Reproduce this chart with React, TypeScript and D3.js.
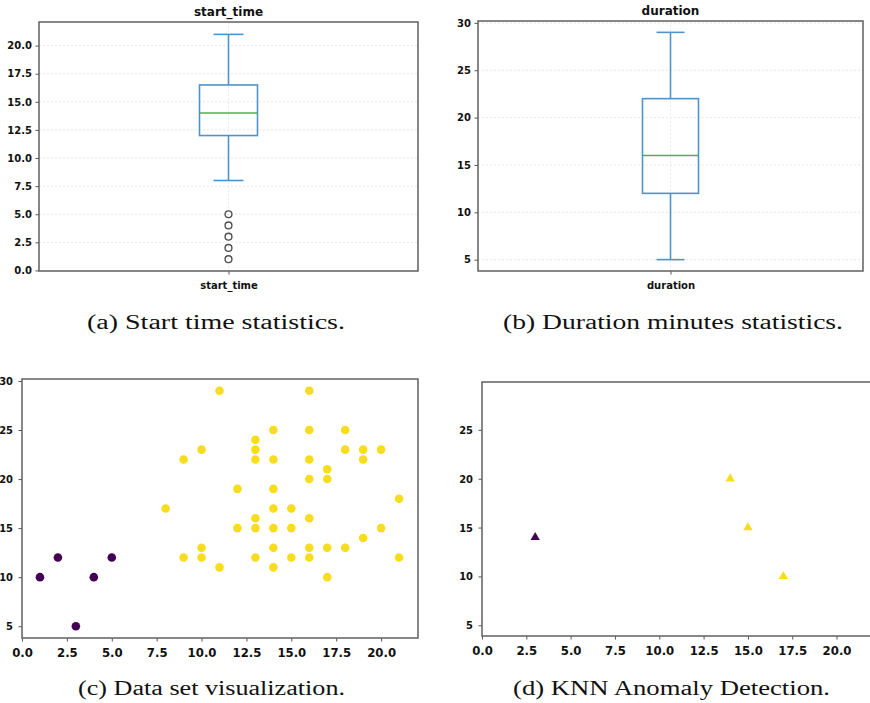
import React from "react";
import * as d3 from "d3";

// box stats: low whisker, q1, median, q3, high whisker
const startBox = [8, 12, 14, 16.5, 21];
const startFliers = [1, 2, 3, 4, 5];
const durationBox = [5, 12, 16, 22, 29];
const durationFliers: number[] = [];

const startTicks = [0, 2.5, 5, 7.5, 10, 12.5, 15, 17.5, 20];
const durationTicks = [5, 10, 15, 20, 25, 30];
const scatterXTicks = [0, 2.5, 5, 7.5, 10, 12.5, 15, 17.5, 20];
const scatterYTicks = [5, 10, 15, 20, 25, 30];
const knnYTicks = [5, 10, 15, 20, 25];

// data set visualization (start_time, duration)
const anomalyX = [1, 2, 3, 4, 5];
const anomalyY = [10, 12, 5, 10, 12];
const normalX = [8, 9, 9, 10, 10, 10, 11, 11, 16, 14, 16, 18, 13, 13, 18, 19, 20, 13, 14, 16, 19, 17, 16, 17, 12, 14, 21, 14, 15, 13, 16, 12, 13, 14, 15, 20, 19, 14, 16, 17, 18, 13, 15, 16, 21, 14, 17];
const normalY = [17, 22, 12, 23, 13, 12, 29, 11, 29, 25, 25, 25, 24, 23, 23, 23, 23, 22, 22, 22, 22, 21, 20, 20, 19, 19, 18, 17, 17, 16, 16, 15, 15, 15, 15, 15, 14, 13, 13, 13, 13, 12, 12, 12, 12, 11, 10];

// knn result
const knnX = [3, 14, 15, 17];
const knnY = [14, 20, 15, 10];
const knnClass = [0, 1, 1, 1];

const captions = ["(a) Start time statistics.", "(b) Duration minutes statistics.", "(c) Data set visualization.", "(d) KNN Anomaly Detection."];

const PURPLE = "#440154";
const YELLOW = "#f7dd1e";
const BLUE = "#4f93c9";
const GREEN = "#4fb04f";
const SANS = "'DejaVu Sans', sans-serif";
const COND = "'DejaVu Sans Condensed', 'DejaVu Sans', sans-serif";

function styleAxis(g: any, size: number, family: string, weight: string) {
  g.select(".domain").remove();
  g.selectAll("line").attr("stroke", "#555").attr("stroke-width", 1);
  g.selectAll("text")
    .attr("fill", "#111")
    .style("font-size", size + "px")
    .style("font-family", family)
    .style("font-weight", weight)
    .style("font-stretch", family === COND ? "condensed" : "normal");
}

function frame(svg: any, l: number, r: number, t: number, b: number) {
  svg.append("rect")
    .attr("x", l).attr("y", t).attr("width", r - l).attr("height", b - t)
    .attr("fill", "none").attr("stroke", "#6a6a6a").attr("stroke-width", 1.6);
}

function drawBox(svg: any, name: string, box: number[], fliers: number[], l: number, r: number, t: number, b: number, yDomain: number[], ticks: number[], fmt: any, boxHalf: number, capHalf: number) {
  const x = d3.scalePoint().domain([name]).range([l, r]).padding(0.5);
  const y = d3.scaleLinear().domain(yDomain).range([b, t]);
  const cx = x(name) as number;

  // grid
  svg.append("g").selectAll("line").data(ticks).enter().append("line")
    .attr("x1", l).attr("x2", r).attr("y1", (d: number) => y(d)).attr("y2", (d: number) => y(d))
    .attr("stroke", "#e6e6e6").attr("stroke-dasharray", "2,2");
  svg.append("line").attr("x1", cx).attr("x2", cx).attr("y1", t).attr("y2", b)
    .attr("stroke", "#ececec").attr("stroke-dasharray", "2,2");

  const [lo, q1, med, q3, hi] = box;
  const g = svg.append("g").attr("fill", "none").attr("stroke-width", 1.6);
  g.append("rect").attr("x", cx - boxHalf).attr("y", y(q3)).attr("width", boxHalf * 2).attr("height", y(q1) - y(q3)).attr("stroke", BLUE);
  g.append("line").attr("x1", cx).attr("x2", cx).attr("y1", y(q1)).attr("y2", y(lo)).attr("stroke", BLUE);
  g.append("line").attr("x1", cx).attr("x2", cx).attr("y1", y(q3)).attr("y2", y(hi)).attr("stroke", BLUE);
  g.append("line").attr("x1", cx - capHalf).attr("x2", cx + capHalf).attr("y1", y(lo)).attr("y2", y(lo)).attr("stroke", BLUE);
  g.append("line").attr("x1", cx - capHalf).attr("x2", cx + capHalf).attr("y1", y(hi)).attr("y2", y(hi)).attr("stroke", BLUE);
  g.append("line").attr("x1", cx - boxHalf).attr("x2", cx + boxHalf).attr("y1", y(med)).attr("y2", y(med)).attr("stroke", GREEN);
  g.selectAll("circle").data(fliers).enter().append("circle")
    .attr("cx", cx).attr("cy", (d: number) => y(d)).attr("r", 3.4)
    .attr("stroke", "#505050").attr("stroke-width", 1.4);

  const ya = svg.append("g").attr("transform", `translate(${l},0)`)
    .call(d3.axisLeft(y).tickValues(ticks).tickFormat(fmt).tickSize(3.5).tickPadding(3.5));
  styleAxis(ya, 10, SANS, "bold");
  const xa = svg.append("g").attr("transform", `translate(0,${b})`)
    .call(d3.axisBottom(x).tickSize(3.5).tickPadding(7));
  styleAxis(xa, 10, SANS, "bold");

  svg.append("text").attr("x", cx).attr("y", t - 6).attr("text-anchor", "middle")
    .style("font-family", SANS).style("font-size", "12px").style("font-weight", "bold")
    .attr("fill", "#111").text(name);

  frame(svg, l, r, t, b);
}

function drawScatterAxes(svg: any, x: any, y: any, l: number, b: number, yTicks: number[]) {
  const xa = svg.append("g").attr("transform", `translate(0,${b})`)
    .call(d3.axisBottom(x).tickValues(scatterXTicks).tickFormat(d3.format(".1f")).tickSize(3.5).tickPadding(6));
  styleAxis(xa, 13, COND, "bold");
  const ya = svg.append("g").attr("transform", `translate(${l},0)`)
    .call(d3.axisLeft(y).tickValues(yTicks).tickFormat(d3.format("d")).tickSize(3.5).tickPadding(5.5));
  styleAxis(ya, 11, COND, "bold");
}

export default function App() {
  const svgRef = React.useRef<SVGSVGElement>(null);

  React.useEffect(() => {
    const svg = d3.select(svgRef.current);
    svg.selectAll("*").remove();

    // (a) and (b) box plots
    drawBox(svg, "start_time", startBox, startFliers, 39, 418, 22, 271, [-0.05, 22.1], startTicks, d3.format(".1f"), 29, 15);
    drawBox(svg, "duration", durationBox, durationFliers, 478, 863, 21, 271, [3.8, 30.2], durationTicks, d3.format("d"), 28, 14);

    // (c) data set scatter
    const cl = 22, cr = 418, ct = 379, cb = 638;
    const cx = d3.scaleLinear().domain([0, 22]).range([cl, 417]);
    const cy = d3.scaleLinear().domain([3.8, 30.2]).range([cb, ct]);
    const cg = svg.append("g");
    cg.selectAll("circle.n").data(normalX).enter().append("circle")
      .attr("cx", (d: number) => cx(d)).attr("cy", (_: number, i: number) => cy(normalY[i]))
      .attr("r", 4.3).attr("fill", YELLOW);
    cg.selectAll("circle.a").data(anomalyX).enter().append("circle")
      .attr("cx", (d: number) => cx(d)).attr("cy", (_: number, i: number) => cy(anomalyY[i]))
      .attr("r", 4.3).attr("fill", PURPLE);
    drawScatterAxes(svg, cx, cy, cl, cb, scatterYTicks);
    frame(svg, cl, cr, ct, cb);

    // (d) knn anomaly detection
    const dl = 482, dr = 872, dt = 382, db = 636;
    const dx = d3.scaleLinear().domain([0, 22]).range([dl, dr]);
    const dy = d3.scaleLinear().domain([3.9, 29.9]).range([db, dt]);
    const tri = d3.symbol().type(d3.symbolTriangle).size(38);
    svg.append("g").selectAll("path").data(knnX).enter().append("path")
      .attr("d", tri as any)
      .attr("transform", (d: number, i: number) => `translate(${dx(d)},${dy(knnY[i])})`)
      .attr("fill", (_: number, i: number) => (knnClass[i] === 0 ? PURPLE : YELLOW));
    drawScatterAxes(svg, dx, dy, dl, db, knnYTicks);
    frame(svg, dl, dr, dt, db);

    // captions
    const capPos = [[216, 329, 258], [673, 329, 340], [211.5, 695, 267], [671.5, 695, 317]];
    svg.append("g").selectAll("text").data(captions).enter().append("text")
      .attr("x", (_: string, i: number) => capPos[i][0])
      .attr("y", (_: string, i: number) => capPos[i][1])
      .attr("textLength", (_: string, i: number) => capPos[i][2])
      .attr("lengthAdjust", "spacingAndGlyphs")
      .attr("text-anchor", "middle")
      .style("font-family", "'Liberation Serif', serif")
      .style("font-size", "20px")
      .attr("fill", "#111")
      .text((d: string) => d);
  }, []);

  return <svg ref={svgRef} width={870} height={703} style={{ position: "absolute", left: 0, top: 0, background: "#fff" }} />;
}
